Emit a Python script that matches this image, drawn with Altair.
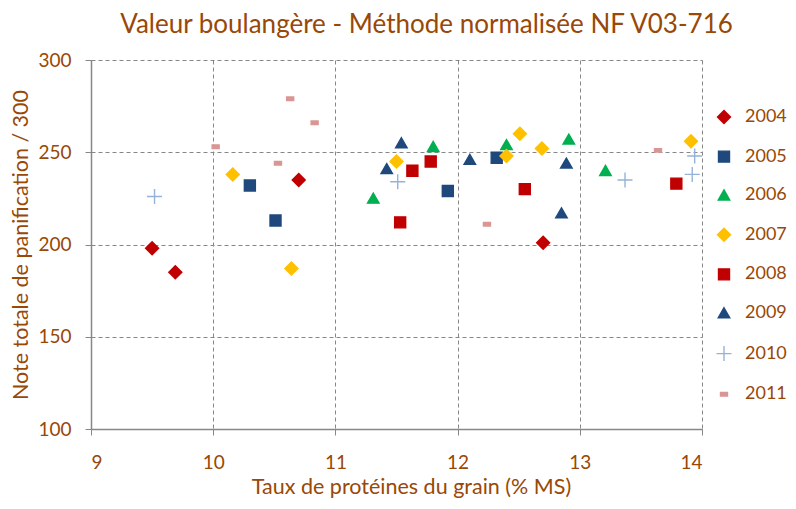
import altair as alt
import pandas as pd

years = ["2004", "2005", "2006", "2007", "2008", "2009", "2010", "2011"]

prot_2004 = [9.50, 9.69, 10.70, 12.70]
note_2004 = [198, 185, 235, 201]
prot_2005 = [10.30, 10.51, 11.92, 12.32]
note_2005 = [232, 213, 229, 247]
prot_2006 = [11.31, 11.80, 12.40, 12.91, 13.21]
note_2006 = [225, 253, 254, 257, 240]
prot_2007 = [10.16, 10.64, 11.50, 12.40, 12.51, 12.69, 13.91]
note_2007 = [238, 187, 245, 248, 260, 252, 256]
prot_2008 = [11.53, 11.63, 11.78, 12.55, 13.79]
note_2008 = [212, 240, 245, 230, 233]
prot_2009 = [11.42, 11.54, 12.10, 12.85, 12.89]
note_2009 = [241, 255, 246, 217, 244]
prot_2010 = [9.52, 11.51, 13.37, 13.92, 13.94]
note_2010 = [226, 234, 235, 238, 248]
prot_2011 = [10.02, 10.53, 10.63, 10.83, 12.24, 13.64]
note_2011 = [253, 244, 279, 266, 211, 251]

series = {
    "2004": (prot_2004, note_2004), "2005": (prot_2005, note_2005),
    "2006": (prot_2006, note_2006), "2007": (prot_2007, note_2007),
    "2008": (prot_2008, note_2008), "2009": (prot_2009, note_2009),
    "2010": (prot_2010, note_2010), "2011": (prot_2011, note_2011),
}
rows = []
for y in years:
    xs, vs = series[y]
    for a, b in zip(xs, vs):
        rows.append({"Année": y, "prot": a, "note": b})
df = pd.DataFrame(rows)

colors = ["#C00000", "#1F497D", "#00B050", "#FFC000", "#C00000", "#1F497D", "#95B3D7", "#D99694"]
diamond = "M0,-1.3L1.3,0L0,1.3L-1.3,0Z"
square = "M-1.1,-1.1L1.1,-1.1L1.1,1.1L-1.1,1.1Z"
triangle = "M0,-1.05L1.15,0.95L-1.15,0.95Z"
plus = "M-1.5,0L1.5,0M0,-1.5L0,1.5"
dash = "M-0.7,-0.35L0.7,-0.35L0.7,0.35L-0.7,0.35Z"
shapes = [diamond, square, triangle, diamond, square, triangle, plus, dash]

brown = "#984807"
font = "Lato"

leg = alt.Legend(title=None, orient="none", legendX=624, legendY=48, rowPadding=20.6, padding=0)

chart = alt.Chart(df).mark_point(filled=True, opacity=1, strokeWidth=1.4, size=100).encode(
    x=alt.X("prot:Q", scale=alt.Scale(domain=[9, 14], nice=False),
            axis=alt.Axis(values=[9, 10, 11, 12, 13, 14], title="Taux de protéines du grain (% MS)",
                          labelPadding=18, titlePadding=4, titleX=320)),
    y=alt.Y("note:Q", scale=alt.Scale(domain=[100, 300], nice=False),
            axis=alt.Axis(values=[100, 150, 200, 250, 300], title="Note totale de panification / 300",
                          labelPadding=14, titlePadding=5)),
    fill=alt.Fill("Année:N", scale=alt.Scale(domain=years, range=colors), legend=leg),
    stroke=alt.Stroke("Année:N", scale=alt.Scale(domain=years, range=colors), legend=leg),
    shape=alt.Shape("Année:N", scale=alt.Scale(domain=years, range=shapes), legend=leg),
).properties(
    width=611, height=369,
    autosize=alt.AutoSizeParams(type="none"),
    padding={"left": 83, "top": 52, "right": 86, "bottom": 72},
    title=alt.TitleParams("Valeur boulangère - Méthode normalisée NF V03-716", anchor="middle",
                          fontSize=26, font=font, fontWeight="normal", color=brown, offset=13, dx=30),
).configure_view(stroke=None).configure_axis(
    labelFont=font, labelFontSize=19, labelColor=brown, titleFont=font, titleFontSize=21.5,
    titleFontWeight="normal", titleColor=brown, domainColor="#878787", domainWidth=1.5,
    tickColor="#878787", tickSize=6, gridColor="#878787", gridDash=[4, 3], gridWidth=1,
).configure_legend(
    labelFont=font, labelFontSize=18, labelColor=brown, symbolSize=100, labelOffset=12,
    symbolStrokeWidth=1.4,
)

chart.save("out.html", embed_options={"renderer": "svg", "actions": False})
